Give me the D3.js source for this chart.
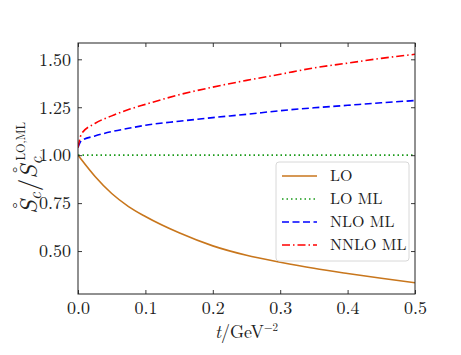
<!DOCTYPE html>
<html>
<head>
<meta charset="utf-8">
<script src="https://cdn.jsdelivr.net/npm/d3@7"></script>
<style>
body { margin: 0; background: #fff; }
svg text { font-family: "Latin Modern Roman", "Liberation Serif", serif !important; fill: #222; }
</style>
</head>
<body>
<div id="root"></div>
<script>
// DATA
const tValues = [0, 0.005, 0.025, 0.05, 0.075, 0.1, 0.15, 0.2, 0.25, 0.3, 0.35, 0.4, 0.45, 0.5];
const loValues = [1.0, 0.977, 0.89, 0.80, 0.732, 0.68, 0.595, 0.527, 0.478, 0.442, 0.41, 0.383, 0.358, 0.335];
const loMlValues = [1, 1, 1, 1, 1, 1, 1, 1, 1, 1, 1, 1, 1, 1];
const nloMlValues = [1.04, 1.075, 1.10, 1.123, 1.14, 1.156, 1.177, 1.196, 1.213, 1.232, 1.247, 1.26, 1.273, 1.285];
const nnloMlValues = [1.04, 1.11, 1.165, 1.205, 1.238, 1.265, 1.315, 1.355, 1.39, 1.422, 1.455, 1.48, 1.505, 1.526];
const seriesNames = ["LO", "LO ML", "NLO ML", "NNLO ML"];
const xTicks = [0, 0.1, 0.2, 0.3, 0.4, 0.5];
const yTicks = [0.5, 0.75, 1.0, 1.25, 1.5];

// DIMENSIONS
const width = 461, height = 355;
const margin = {top: 43, right: 46, bottom: 61, left: 78};
const iw = width - margin.left - margin.right;
const ih = height - margin.top - margin.bottom;

const svg = d3.select('#root').append('svg')
  .attr('width', width)
  .attr('height', height);

const g = svg.append('g')
  .attr('transform', `translate(${margin.left},${margin.top})`);

// SCALES
const x = d3.scaleLinear().domain([0, 0.5]).range([0, iw]);
const y = d3.scaleLinear().domain([0.276, 1.585]).range([ih, 0]);

// CLIP
svg.append('defs').append('clipPath').attr('id', 'clip')
  .append('rect').attr('width', iw).attr('height', ih);

// LINES
const styles = [
  {vals: loValues, color: '#c8761c', dash: null},
  {vals: loMlValues, color: '#1a9a1a', dash: '1.5,3'},
  {vals: nloMlValues, color: '#0000ff', dash: '7,3.5'},
  {vals: nnloMlValues, color: '#ff0000', dash: '8,3,1.5,3'}
];

const line = d3.line()
  .x(d => x(d[0]))
  .y(d => y(d[1]))
  .curve(d3.curveMonotoneX);

const plot = g.append('g').attr('clip-path', 'url(#clip)');
styles.forEach(s => {
  plot.append('path')
    .datum(tValues.map((t, i) => [t, s.vals[i]]))
    .attr('fill', 'none')
    .attr('stroke', s.color)
    .attr('stroke-width', 1.6)
    .attr('stroke-dasharray', s.dash)
    .attr('d', line);
});

// AXES (ticks inward on all sides)
const fmtY = d3.format('.2f');
const fmtX = d3.format('.1f');

g.append('g').attr('transform', `translate(0,${ih})`)
  .call(d3.axisBottom(x).tickValues(xTicks).tickSize(-4).tickPadding(7).tickFormat(fmtX));
g.append('g')
  .call(d3.axisTop(x).tickValues(xTicks).tickSize(-4).tickFormat(''));
g.append('g')
  .call(d3.axisLeft(y).tickValues(yTicks).tickSize(-4).tickPadding(7).tickFormat(fmtY));
g.append('g').attr('transform', `translate(${iw},0)`)
  .call(d3.axisRight(y).tickValues(yTicks).tickSize(-4).tickFormat(''));

g.selectAll('.domain').remove();
g.selectAll('.tick line').attr('stroke', '#222').attr('stroke-width', 0.9);
g.selectAll('.tick text')
  .attr('font-size', 18)
  .attr('fill', '#222');

g.append('rect')
  .attr('width', iw).attr('height', ih)
  .attr('fill', 'none').attr('stroke', '#222').attr('stroke-width', 1);

// X LABEL
const xl = svg.append('text')
  .attr('x', margin.left + iw / 2)
  .attr('y', 338)
  .attr('text-anchor', 'middle')
  .attr('font-size', 18);
xl.append('tspan').attr('font-style', 'italic').text('t');
xl.append('tspan').text('/GeV');
xl.append('tspan').attr('font-size', 11).attr('dy', -7).text('\u22122');

// Y LABEL (pieces laid out along the rotated baseline)
const ylab = svg.append('g').attr('transform', 'translate(37,168) rotate(-90)');
const inner = ylab.append('g');
let cursor = 0;
function piece(txt, size, italic, yOff, advance = true) {
  const t = inner.append('text')
    .attr('x', cursor).attr('y', yOff)
    .attr('font-size', size)
    .attr('font-style', italic ? 'italic' : 'normal')
    .text(txt);
  const w = t.node().getComputedTextLength();
  if (advance) cursor += w;
  return w;
}
function ringS() {
  const start = cursor;
  const w = piece('S', 25, true, 0);
  inner.append('text')
    .attr('x', start + w * 0.62).attr('y', -7)
    .attr('text-anchor', 'middle')
    .attr('font-size', 25)
    .text('\u02DA');
}
ringS();
piece('c', 17, true, 4);
cursor += 1;
piece('/', 25, false, 0);
ringS();
const subStart = cursor;
const wc = piece('c', 17, true, 5, false);
cursor = subStart + 4;
const ws = piece('LO,ML', 12, false, -12, false);
cursor = subStart + Math.max(wc, ws + 4);
inner.attr('transform', `translate(${-cursor / 2},0)`);

// LEGEND
const lg = svg.append('g').attr('transform', 'translate(276,162)');
lg.append('rect')
  .attr('width', 133).attr('height', 99)
  .attr('rx', 3)
  .attr('fill', '#fff').attr('fill-opacity', 0.8)
  .attr('stroke', '#d8d8d8').attr('stroke-width', 1);
seriesNames.forEach((name, i) => {
  const yy = 14 + i * 23;
  lg.append('line')
    .attr('x1', 6).attr('x2', 41)
    .attr('y1', yy).attr('y2', yy)
    .attr('stroke', styles[i].color)
    .attr('stroke-width', 1.6)
    .attr('stroke-dasharray', styles[i].dash);
  lg.append('text')
    .attr('x', 54).attr('y', yy + 5)
    .attr('font-size', 16)
    .text(name);
});
</script>
</body>
</html>
